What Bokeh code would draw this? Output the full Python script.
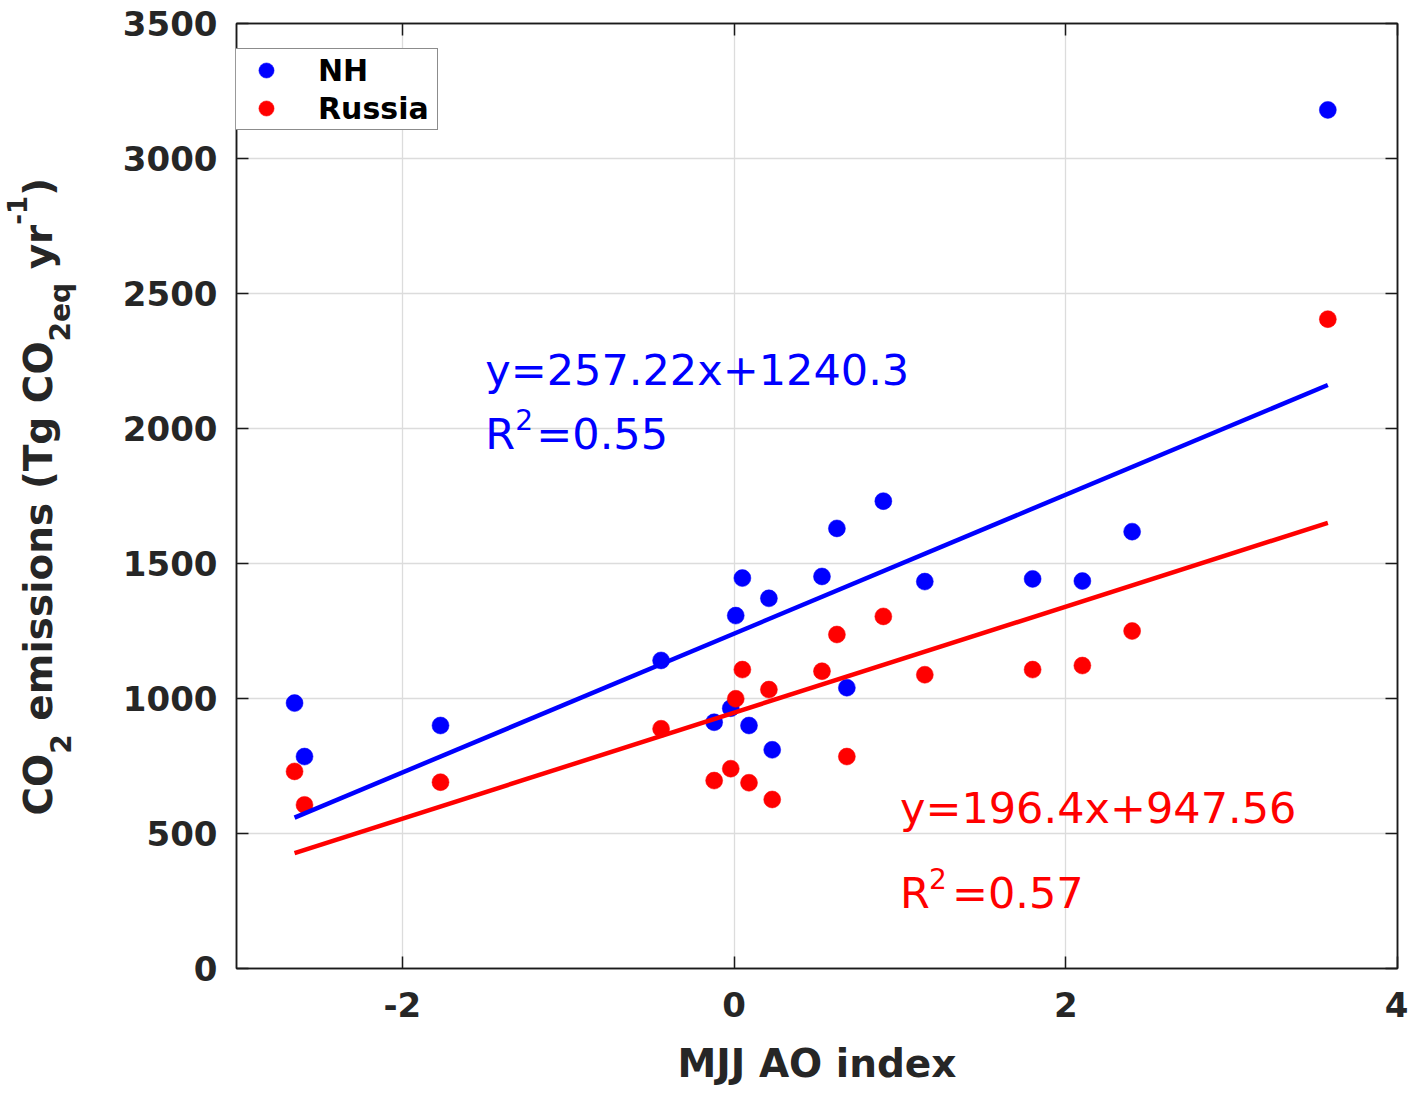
import numpy as np
from bokeh.plotting import figure
from bokeh.layouts import row
from bokeh.models import Range1d, LinearAxis, FixedTicker, Legend, LegendItem, Label
from bokeh.embed import file_html
from bokeh.resources import INLINE

# ---- data ----
ao_index = [-2.65, -2.59, -1.77, -0.44, -0.12, -0.02, 0.01, 0.05, 0.09, 0.21,
            0.23, 0.53, 0.62, 0.68, 0.90, 1.15, 1.80, 2.10, 2.40, 3.58]
nh_emis = [983, 785, 900, 1141, 912, 964, 1307, 1446, 900, 1371,
           810, 1452, 1630, 1040, 1731, 1433, 1443, 1435, 1618, 3180]
russia_emis = [730, 606, 690, 888, 696, 740, 999, 1107, 688, 1033,
               626, 1101, 1237, 785, 1304, 1088, 1107, 1122, 1250, 2405]
nh_fit = (257.22, 1240.3)
russia_fit = (196.4, 947.56)
nh_eq = "y=257.22x+1240.3"
nh_r2 = "=0.55"
russia_eq = "y=196.4x+947.56"
russia_r2 = "=0.57"
x_ticks = [-2, 0, 2, 4]
x_tick_labels = {-2: "-2", 0: "0", 2: "2", 4: "4"}
y_ticks = [0, 500, 1000, 1500, 2000, 2500, 3000, 3500]

BLUE = "#0000ff"
RED = "#ff0000"
AXC = "#1a1a1a"
TXT = "#262626"
FONT = "DejaVu Sans"
H = 1089
TOP, BOTTOM = 23, 121
LW = 100  # width of the strip holding the rotated y-axis title
NB = "\u00a0"

# ---------- main plot ----------
p = figure(width=1308, height=H, x_range=Range1d(-3, 4), y_range=Range1d(0, 3500),
           output_backend="svg", toolbar_location=None,
           min_border_left=236 - LW, min_border_right=11, min_border_top=TOP,
           min_border_bottom=BOTTOM)
p.background_fill_color = "white"
p.border_fill_color = "white"
p.outline_line_color = AXC
p.outline_line_width = 1.5

p.xaxis.ticker = FixedTicker(ticks=x_ticks)
p.xaxis.major_label_overrides = x_tick_labels
p.yaxis.ticker = FixedTicker(ticks=y_ticks)
for ax in (p.xaxis, p.yaxis):
    ax.major_tick_in = 12
    ax.major_tick_out = 0
    ax.minor_tick_line_color = None
    ax.axis_line_color = AXC
    ax.axis_line_width = 1.5
    ax.major_tick_line_color = AXC
    ax.major_tick_line_width = 1.5
    ax.major_label_text_font = FONT
    ax.major_label_text_font_style = "bold"
    ax.major_label_text_font_size = "34px"
    ax.major_label_text_color = TXT
p.yaxis.major_label_standoff = 19
p.xaxis.major_label_standoff = 23
p.xaxis.axis_label = "MJJ AO index"
p.xaxis.axis_label_text_font = FONT
p.xaxis.axis_label_text_font_style = "bold"
p.xaxis.axis_label_text_font_size = "39px"
p.xaxis.axis_label_text_color = TXT
p.xaxis.axis_label_standoff = 21

for loc, ticks in (("right", y_ticks), ("above", x_ticks)):
    ax = LinearAxis(ticker=FixedTicker(ticks=ticks),
                    major_label_overrides={t: "" for t in ticks},
                    major_label_text_font_size="0px", major_label_standoff=0,
                    major_tick_in=12, major_tick_out=0, minor_tick_line_color=None,
                    axis_line_color=AXC, axis_line_width=1.5,
                    major_tick_line_color=AXC, major_tick_line_width=1.5)
    p.add_layout(ax, loc)

p.xgrid.ticker = FixedTicker(ticks=x_ticks)
p.ygrid.ticker = FixedTicker(ticks=y_ticks)
p.grid.grid_line_color = "#dcdcdc"
p.grid.grid_line_width = 1.3

r_nh = p.scatter(ao_index, nh_emis, size=17, fill_color=BLUE, line_color=BLUE, line_width=0.5)
r_ru = p.scatter(ao_index, russia_emis, size=17, fill_color=RED, line_color=RED, line_width=0.5)

xl = np.array([min(ao_index), max(ao_index)])
p.line(xl, nh_fit[0] * xl + nh_fit[1], line_color=BLUE, line_width=4.5)
p.line(xl, russia_fit[0] * xl + russia_fit[1], line_color=RED, line_width=4.5)

legend = Legend(items=[LegendItem(label="NH", renderers=[r_nh]),
                       LegendItem(label="Russia", renderers=[r_ru])],
                location=(-25, 838), margin=0, padding=2, spacing=0,
                glyph_height=38, glyph_width=104, label_standoff=0, label_width=117,
                label_height=38,
                label_text_font=FONT, label_text_font_style="bold",
                label_text_font_size="30px", label_text_color="black",
                border_line_color=AXC, border_line_width=1.5,
                background_fill_color="white", background_fill_alpha=1.0)
p.add_layout(legend, "center")


def add_text(fig, txt, x, y, xo, yo, size, color, bold=False, angle=0.0):
    fig.add_layout(Label(x=x, y=y, x_offset=xo, y_offset=yo, text=txt, angle=angle,
                         text_font=FONT, text_font_size=f"{size}px",
                         text_font_style="bold" if bold else "normal",
                         text_color=color, text_baseline="middle", text_align="left"))


# regression annotations (anchored at the middle of the text line)
add_text(p, nh_eq, -1.5, 2215, 0, 0, 43, BLUE)
add_text(p, "R", -1.5, 1981, 0, 0, 43, BLUE)
add_text(p, "2", -1.5, 1981, 30, 14, 28, BLUE)
add_text(p, nh_r2, -1.5, 1981, 51, 0, 43, BLUE)

add_text(p, russia_eq, 1.0, 593, 0, 0, 43, RED)
add_text(p, "R", 1.0, 278, 0, 0, 43, RED)
add_text(p, "2", 1.0, 278, 29, 15, 28, RED)
add_text(p, russia_r2, 1.0, 278, 52, 0, 43, RED)

# ---------- strip with the rotated y-axis title (sub/superscripts) ----------
q = figure(width=LW, height=H, x_range=Range1d(0, LW), y_range=Range1d(BOTTOM, H - TOP),
           output_backend="svg", toolbar_location=None,
           min_border_left=0, min_border_right=0, min_border_top=TOP, min_border_bottom=BOTTOM,
           x_axis_location=None, y_axis_location=None)
q.outline_line_color = None
q.grid.visible = False
q.background_fill_color = "white"
q.border_fill_color = "white"

# DejaVu Sans Bold advance widths (em)
W = {'C': .733, 'O': .850, NB: .348, 'e': .678, 'm': 1.042, 'i': .343, 's': .595,
     'o': .687, 'n': .712, '(': .457, ')': .457, 'T': .682, 'g': .716, 'y': .652,
     'r': .493, '-': .415, '2': .696, 'q': .716, '1': .696}
pieces = [("CO", 0, 39), ("2", 22, 28), (NB + "emissions" + NB + "(Tg" + NB + "CO", 0, 39),
          ("2eq", 22, 28), (NB + "yr", 0, 39), ("-1", -22, 26), (")", 0, 39)]
pos = 0.0
for txt, shift, size in pieces:
    add_text(q, txt, 38, H - 815, shift, pos, size, TXT, bold=True, angle=np.pi / 2)
    pos += sum(W[c] for c in txt) * size

layout = row(q, p, spacing=0)
open("out.html", "w").write(file_html(layout, INLINE))
